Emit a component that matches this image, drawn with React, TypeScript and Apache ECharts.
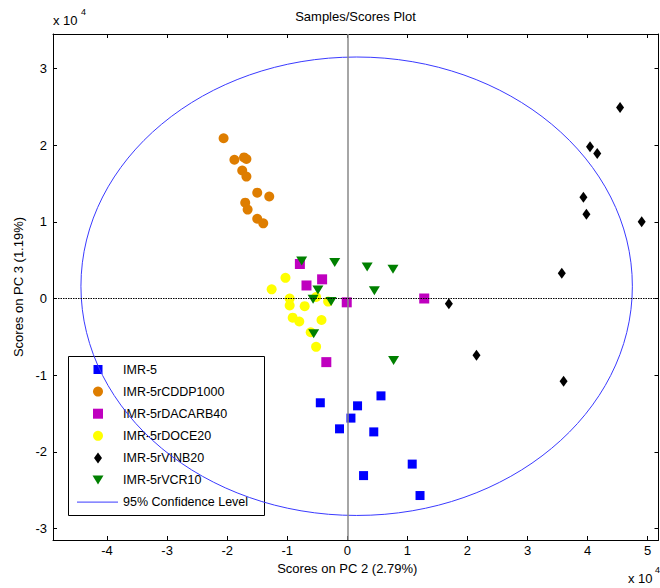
import React, { useEffect, useRef } from "react";
import * as echarts from "echarts";

// Values in units of 10^4
const xTicks = [-4, -3, -2, -1, 0, 1, 2, 3, 4, 5];
const yTicks = [-3, -2, -1, 0, 1, 2, 3];

const seriesNames = [
  "IMR-5",
  "IMR-5rCDDP1000",
  "IMR-5rDACARB40",
  "IMR-5rDOCE20",
  "IMR-5rVINB20",
  "IMR-5rVCR10",
];
const ellipseName = "95% Confidence Level";

const imr5 = [
  [-0.45, -1.36], [0.17, -1.4], [0.56, -1.27], [0.06, -1.56], [-0.13, -1.7],
  [0.44, -1.74], [1.08, -2.16], [0.27, -2.31], [1.21, -2.57],
];
const cddp1000 = [
  [-2.06, 2.09], [-1.88, 1.81], [-1.72, 1.84], [-1.68, 1.82], [-1.75, 1.67],
  [-1.68, 1.59], [-1.5, 1.38], [-1.3, 1.33], [-1.7, 1.25], [-1.66, 1.16],
  [-1.5, 1.04], [-1.4, 0.98],
];
const dacarb40 = [
  [-0.79, 0.45], [-0.42, 0.25], [-0.68, 0.17], [-0.01, -0.05], [1.28, 0.0],
  [-0.35, -0.83],
];
const doce20 = [
  [-1.03, 0.27], [-1.26, 0.12], [-0.96, 0.0], [-0.96, -0.09], [-0.71, -0.1],
  [-0.52, 0.02], [-0.32, -0.04], [-0.91, -0.25], [-0.8, -0.3], [-0.43, -0.28],
  [-0.61, -0.44], [-0.52, -0.63],
];
const vinb20 = [
  [4.54, 2.49], [4.04, 1.98], [4.16, 1.89], [3.93, 1.32], [3.98, 1.1],
  [4.9, 1.0], [3.57, 0.33], [1.69, -0.07], [2.15, -0.74], [3.6, -1.08],
];
const vcr10 = [
  [-0.76, 0.49], [-0.21, 0.47], [0.33, 0.41], [0.76, 0.38], [-0.49, 0.11],
  [-0.57, -0.01], [-0.27, -0.04], [0.45, 0.1], [-0.56, -0.46], [0.77, -0.81],
];
// confidence ellipse: center x, center y, semi-axis x, semi-axis y
const ellipseParams = [[0.155, 0.16, 4.59, 2.99]];

const seriesData = [imr5, cddp1000, dacarb40, doce20, vinb20, vcr10];

const FONT = '"Liberation Sans", Arial, Helvetica, sans-serif';
const colors = ["#0000FF", "#DE7D00", "#BF00BF", "#FFFF00", "#000000", "#008000"];
const symbols = ["rect", "circle", "rect", "circle", "diamond", "path://M0,0L10,0L5,9Z"];
const symbolSizes: any[] = [9, 10, 10, 10, [8, 11], [11, 9]];

function legendMarker(i: number, cx: number, cy: number): any {
  const fill = colors[i];
  switch (i) {
    case 0:
      return { type: "rect", shape: { x: cx - 4.5, y: cy - 4.5, width: 9, height: 9 }, style: { fill } };
    case 2:
      return { type: "rect", shape: { x: cx - 5, y: cy - 5, width: 10, height: 10 }, style: { fill } };
    case 1:
    case 3:
      return { type: "circle", shape: { cx, cy, r: 5 }, style: { fill } };
    case 4:
      return {
        type: "polygon",
        shape: { points: [[cx, cy - 5.5], [cx + 4, cy], [cx, cy + 5.5], [cx - 4, cy]] },
        style: { fill },
      };
    default:
      return {
        type: "polygon",
        shape: { points: [[cx - 5.5, cy - 4.5], [cx + 5.5, cy - 4.5], [cx, cy + 4.5]] },
        style: { fill },
      };
  }
}

export default function App() {
  const ref = useRef<HTMLDivElement>(null);
  useEffect(() => {
    if (!ref.current) return;
    const chart = echarts.init(ref.current, null, { renderer: "svg" });

    const axisCommon = {
      type: "value" as const,
      splitLine: { show: false },
      axisLine: { show: true, onZero: false, lineStyle: { color: "#000", width: 1 } },
    };

    const legendChildren: any[] = [
      {
        type: "rect",
        shape: { x: 68.5, y: 356.5, width: 196, height: 159 },
        style: { fill: "#fff", stroke: "#000", lineWidth: 1 },
      },
    ];
    const rowStart = 369.5;
    const rowStep = 22.1;
    seriesNames.forEach((name, i) => {
      const cy = rowStart + i * rowStep;
      legendChildren.push(legendMarker(i, 98, cy));
      legendChildren.push({
        type: "text",
        style: { text: name, x: 123, y: cy, verticalAlign: "middle", fill: "#000", font: `12.5px ${FONT}` },
      });
    });
    const lineY = rowStart + 6 * rowStep;
    legendChildren.push({
      type: "line",
      shape: { x1: 77, y1: lineY, x2: 118, y2: lineY },
      style: { stroke: "#3a3aff", lineWidth: 1 },
    });
    legendChildren.push({
      type: "text",
      style: { text: ellipseName, x: 123, y: lineY, verticalAlign: "middle", fill: "#000", font: `12.5px ${FONT}` },
    });

    const option: any = {
      animation: false,
      backgroundColor: "#fff",
      textStyle: { fontFamily: FONT },
      grid: { left: 53, right: 1.5, top: 34, bottom: 48, containLabel: false },
      xAxis: [
        {
          ...axisCommon,
          position: "bottom",
          min: -4.9,
          max: 5.18,
          name: "Scores on PC 2 (2.79%)",
          nameLocation: "middle",
          nameGap: 22,
          nameTextStyle: { color: "#000", fontSize: 13, fontFamily: FONT, padding: [0, 17, 0, 0] },
          axisTick: { show: true, inside: true, length: 4, customValues: xTicks, lineStyle: { color: "#000" } },
          axisLabel: { show: true, customValues: xTicks, color: "#000", fontSize: 13, fontFamily: FONT, margin: 4 },
        },
        {
          ...axisCommon,
          position: "top",
          min: -4.9,
          max: 5.18,
          axisTick: { show: true, inside: true, length: 4, customValues: xTicks, lineStyle: { color: "#000" } },
          axisLabel: { show: false },
        },
      ],
      yAxis: [
        {
          ...axisCommon,
          position: "left",
          min: -3.15,
          max: 3.45,
          name: "Scores on PC 3 (1.19%)",
          nameLocation: "middle",
          nameGap: 27,
          nameTextStyle: { color: "#000", fontSize: 13, fontFamily: FONT },
          axisTick: { show: true, inside: true, length: 4, customValues: yTicks, lineStyle: { color: "#000" } },
          axisLabel: { show: true, customValues: yTicks, color: "#000", fontSize: 13, fontFamily: FONT, margin: 6 },
        },
        {
          ...axisCommon,
          position: "right",
          min: -3.15,
          max: 3.45,
          axisTick: { show: true, inside: true, length: 4, customValues: yTicks, lineStyle: { color: "#000" } },
          axisLabel: { show: false },
        },
      ],
      series: [
        {
          name: ellipseName,
          type: "custom",
          xAxisIndex: 0,
          yAxisIndex: 0,
          z: 1,
          silent: true,
          data: ellipseParams,
          encode: { x: 0, y: 1 },
          renderItem: (params: any, api: any) => {
            const cx = api.value(0);
            const cy = api.value(1);
            const a = api.value(2);
            const b = api.value(3);
            const p0 = api.coord([cx - a, cy - b]);
            const p1 = api.coord([cx + a, cy + b]);
            const c = api.coord([cx, cy]);
            return {
              type: "ellipse",
              shape: { cx: c[0], cy: c[1], rx: Math.abs(p1[0] - p0[0]) / 2, ry: Math.abs(p0[1] - p1[1]) / 2 },
              style: { fill: "none", stroke: "#3a3aff", lineWidth: 1 },
            };
          },
          markLine: {
            silent: true,
            symbol: ["none", "none"],
            label: { show: false },
            data: [
              { xAxis: 0, lineStyle: { color: "#888", width: 1.5, type: "solid" } },
              { yAxis: 0, lineStyle: { color: "#000", width: 1, type: [1.5, 1] } },
            ],
          },
        },
        ...seriesNames.map((name, i) => ({
          name,
          type: "scatter",
          xAxisIndex: 0,
          yAxisIndex: 0,
          z: 2 + i * 0.01,
          symbol: symbols[i],
          symbolSize: symbolSizes[i],
          itemStyle: { color: colors[i], opacity: 1 },
          data: seriesData[i],
        })),
      ],
      graphic: [
        {
          type: "text",
          style: { text: "Samples/Scores Plot", x: 355.5, y: 16, textAlign: "center", verticalAlign: "middle", fill: "#000", font: `13px ${FONT}` },
        },
        { type: "text", style: { text: "x 10", x: 53, y: 20, verticalAlign: "middle", fill: "#000", font: `13px ${FONT}` } },
        { type: "text", style: { text: "4", x: 81, y: 12, verticalAlign: "middle", fill: "#000", font: `9px ${FONT}` } },
        { type: "text", style: { text: "x 10", x: 628, y: 578, verticalAlign: "middle", fill: "#000", font: `13px ${FONT}` } },
        { type: "text", style: { text: "4", x: 655, y: 570, verticalAlign: "middle", fill: "#000", font: `9px ${FONT}` } },
        { type: "group", z: 100, children: legendChildren },
      ],
    };
    chart.setOption(option);
    return () => chart.dispose();
  }, []);
  return (
    <div
      ref={ref}
      style={{ position: "fixed", left: 0, top: 0, width: 660, height: 588, background: "#fff" }}
    />
  );
}
